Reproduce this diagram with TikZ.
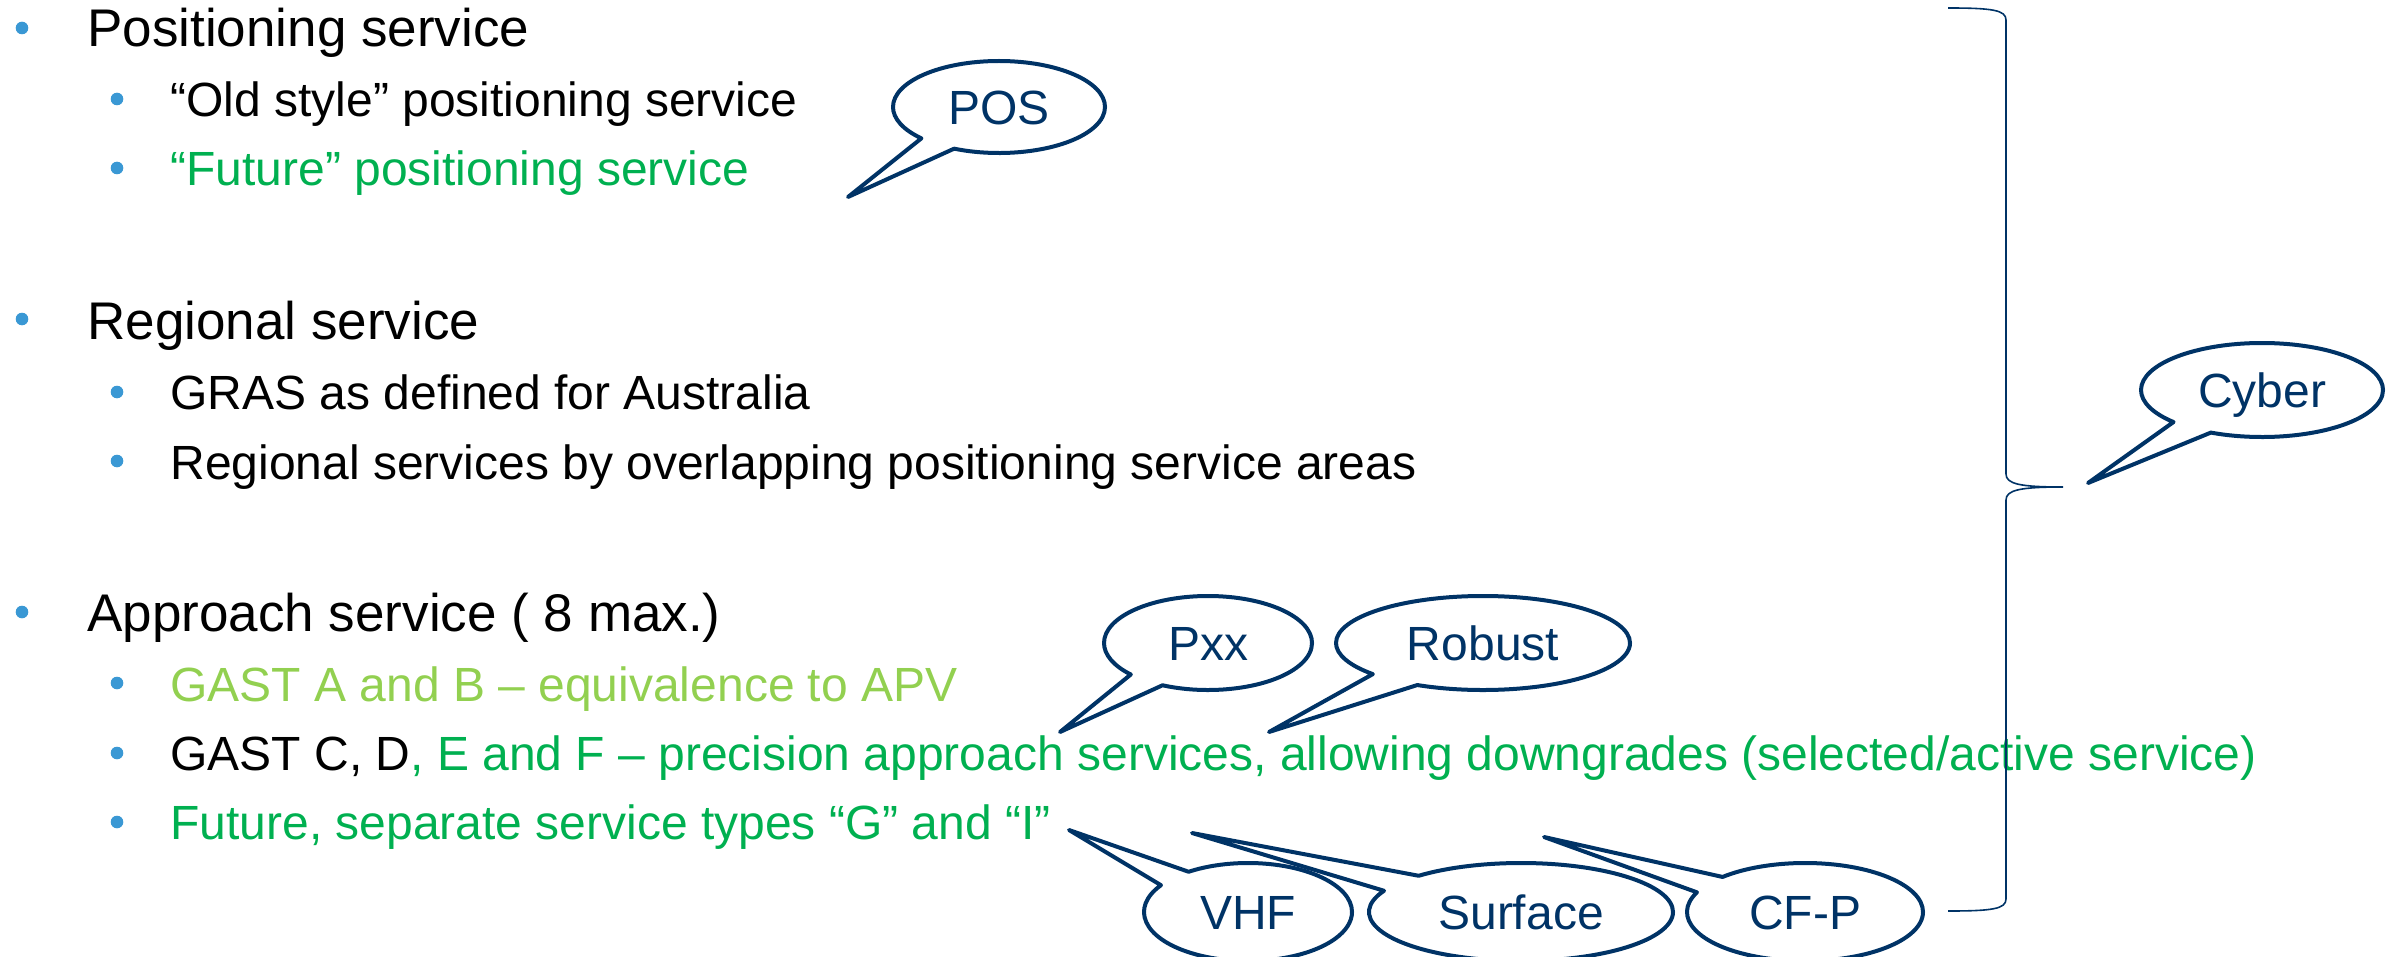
\documentclass[tikz,border=0pt]{standalone}
\usepackage{fontspec}
\setmainfont{Liberation Sans}
\usetikzlibrary{shapes.callouts}

\definecolor{bubblenavy}{RGB}{0,51,102}
\definecolor{bulletblue}{RGB}{58,152,212}
\definecolor{futuregreen}{RGB}{0,176,80}
\definecolor{gastgreen}{RGB}{146,208,80}

\tikzset{
  dot/.style={circle, fill=bulletblue, inner sep=0pt, minimum size=6.3pt},
  lvlone/.style={anchor=base west, inner sep=0pt, font=\fontsize{26.5}{30}\selectfont},
  lvltwo/.style={anchor=base west, inner sep=0pt, font=\fontsize{24}{28}\selectfont},
  bubble/.style={ellipse callout, draw=bubblenavy, line width=2pt, line join=round, text=bubblenavy,
    font=\fontsize{24}{28}\selectfont, callout pointer arc=22, inner sep=0pt,
    text height=17.2pt, text depth=0pt},
}

\begin{document}
\begin{tikzpicture}[x=0.5pt, y=-0.5pt]
    \useasboundingbox (0,0) rectangle (2386,957);

    % bullet list
    \node[dot] (b1) at (22,28) {};
    \node[lvlone] (t1) at (87,47) {Positioning service};
    \node[dot] (b2) at (117,99) {};
    \node[lvltwo] (t2) at (170,117) {“Old style” positioning service};
    \node[dot] (b3) at (117,168) {};
    \node[lvltwo, text=futuregreen] (t3) at (170,186) {“Future” positioning service};

    \node[dot] (b4) at (22,319) {};
    \node[lvlone] (t4) at (87,339) {Regional service};
    \node[dot] (b5) at (117,392) {};
    \node[lvltwo] (t5) at (170,409) {GRAS as defined for Australia};
    \node[dot] (b6) at (117,461) {};
    \node[lvltwo] (t6) at (170,479) {Regional services by overlapping positioning service areas};

    \node[dot] (b7) at (22,612) {};
    \node[lvlone] (t7) at (87,631) {Approach service ( 8 max.)};
    \node[dot] (b8) at (117,683) {};
    \node[lvltwo, text=gastgreen] (t8) at (170,701) {GAST A and B – equivalence to APV};
    \node[dot] (b9) at (117,753) {};
    \node[lvltwo] (t9) at (170,770) {GAST C, D\textcolor{futuregreen}{, E and F – precision approach services, allowing downgrades (selected/active service)}};
    \node[dot] (b10) at (117,822) {};
    \node[lvltwo, text=futuregreen] (t10) at (170,839) {Future, separate service types “G” and “I”};

    % brace
    \coordinate (braceTop) at (1948,8);
    \coordinate (braceTip) at (2063,487);
    \coordinate (braceBot) at (1948,911);
    \draw[bubblenavy, line width=0.8pt] (braceTop) .. controls (1992,8) and (2006,10) .. (2006,20)
        -- (2006,474) .. controls (2006,484) and (2020,487) .. (braceTip)
        .. controls (2020,487) and (2006,490) .. (2006,500)
        -- (2006,899) .. controls (2006,909) and (1992,911) .. (braceBot);

    % callouts
    \coordinate (posTip) at (848,197);
    \coordinate (pxxTip) at (1060,732);
    \coordinate (robustTip) at (1269,732);
    \coordinate (cyberTip) at (2088,483);
    \coordinate (vhfTip) at (1069,830);
    \coordinate (surfaceTip) at (1192,833);
    \coordinate (cfpTip) at (1544,837);

    \node[bubble, minimum width=106pt, minimum height=46pt, callout absolute pointer={(posTip)}] (pos) at (999,107) {POS};
    \node[bubble, minimum width=104pt, minimum height=47pt, callout absolute pointer={(pxxTip)}] (pxx) at (1208,643) {Pxx};
    \node[bubble, minimum width=147pt, minimum height=47pt, callout absolute pointer={(robustTip)}] (robust) at (1483,643) {Robust};
    \node[bubble, minimum width=121pt, minimum height=47pt, callout absolute pointer={(cyberTip)}] (cyber) at (2262,390) {Cyber};
    \node[bubble, minimum width=104pt, minimum height=49pt, callout absolute pointer={(vhfTip)}] (vhf) at (1248,912) {VHF};
    \node[bubble, minimum width=152pt, minimum height=49pt, callout absolute pointer={(surfaceTip)}] (surface) at (1521,912) {Surface};
    \node[bubble, minimum width=118pt, minimum height=49pt, callout absolute pointer={(cfpTip)}] (cfp) at (1805,912) {CF-P};
\end{tikzpicture}
\end{document}
